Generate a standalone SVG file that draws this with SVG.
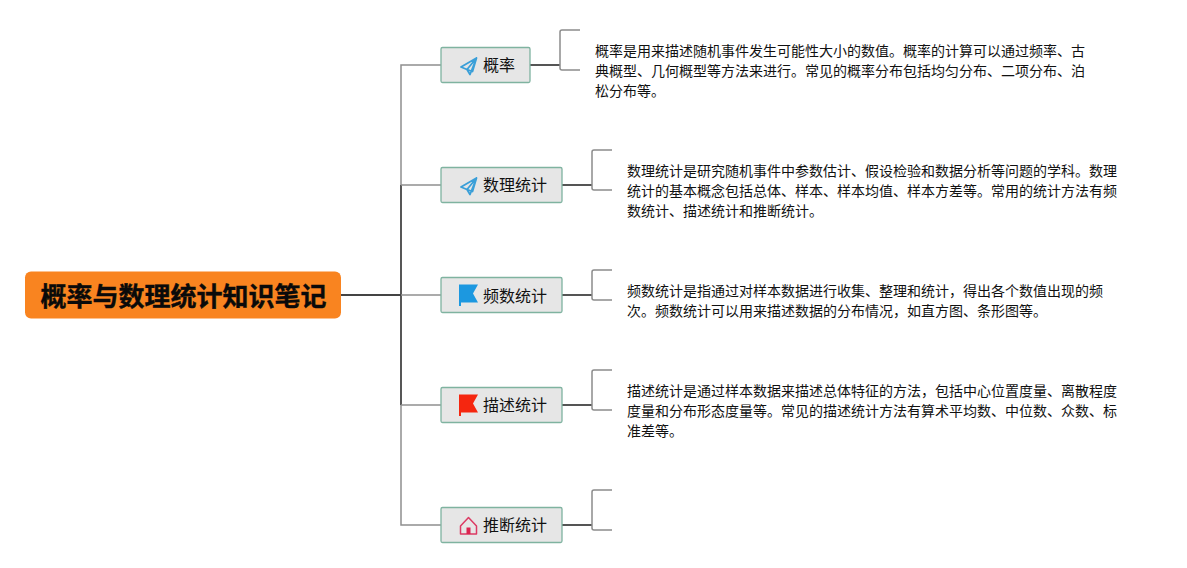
<svg xmlns="http://www.w3.org/2000/svg" width="1187" height="568" viewBox="0 0 1187 568">
<style>
text{font-family:"Liberation Sans","Noto Sans CJK SC",sans-serif;fill:#111}
.t{font-size:16px}
.d{font-size:14px}
.c{fill:none}
.n{fill:#e6e6e6;stroke:#7fb3a0;stroke-width:1.3}
.dark{stroke:#555;stroke-width:2}
.lt{stroke:#8c8c8c;stroke-width:1.5}
.br{stroke:#8f8f8f;stroke-width:1.5}
</style>
<rect width="1187" height="568" fill="#fff"/>
<g id="connectors">
<path class="c" d="M341 295H401" stroke="#444" stroke-width="2"/>
<path class="c br" d="M441 65H401V185"/>
<path class="c br" d="M401 405V525H441"/>
<path class="c" d="M401 185V405" stroke="#444" stroke-width="1.800"/>
<path class="c br" d="M401 185H441"/>
<path class="c br" d="M401 295H441"/>
<path class="c br" d="M401 405H441"/>
<path class="c dark" d="M530 65H560"/><path class="c lt" d="M580 30H562Q560 30 560 32V68Q560 70 562 70H580"/>
<path class="c dark" d="M562 185H592"/><path class="c lt" d="M612 150H594Q592 150 592 152V188Q592 190 594 190H612"/>
<path class="c dark" d="M562 295H592"/><path class="c lt" d="M612 270H594Q592 270 592 272V298Q592 300 594 300H612"/>
<path class="c dark" d="M562 405H592"/><path class="c lt" d="M612 370H594Q592 370 592 372V408Q592 410 594 410H612"/>
<path class="c dark" d="M562 525H592"/><path class="c lt" d="M612 490H594Q592 490 592 492V528Q592 530 594 530H612"/>
</g>
<g id="root">
<rect x="25" y="271.500" width="316" height="47" rx="6" fill="#f98420"/>
<text x="183.500" y="306" text-anchor="middle" font-size="26" font-weight="700" style="fill:#0a0a0a;stroke:#0a0a0a;stroke-width:.4">概率与数理统计知识笔记</text>
</g>
<g id="node1">
<rect class="n" x="441" y="47.500" width="89" height="35" rx="1.500"/>
<path d="M476.500 58L461 67L467 69.500L470 74.500L476.500 58ZM467 69.500L476.500 58L472.500 71.500Z" fill="none" stroke="#3a9fd8" stroke-width="1.800" stroke-linejoin="round"/>
<text class="t" x="483" y="71">概率</text>
</g>
<g id="node2">
<rect class="n" x="441" y="167.500" width="121" height="35" rx="1.500"/>
<path d="M476.500 178L461 187L467 189.500L470 194.500L476.500 178ZM467 189.500L476.500 178L472.500 191.500Z" fill="none" stroke="#3a9fd8" stroke-width="1.800" stroke-linejoin="round"/>
<text class="t" x="483" y="191">数理统计</text>
</g>
<g id="node3">
<rect class="n" x="441" y="277.500" width="121" height="35" rx="1.500"/>
<path d="M459 284.500H478L473 293.500L478 302.500H461V306H459Z" fill="#1c98e0"/>
<text class="t" x="483" y="302">频数统计</text>
</g>
<g id="node4">
<rect class="n" x="441" y="387.500" width="121" height="35" rx="1.500"/>
<path d="M459 394.500H478L473 403.500L478 412.500H461V416H459Z" fill="#f5260f"/>
<text class="t" x="483" y="411">描述统计</text>
</g>
<g id="node5">
<rect class="n" x="441" y="507.500" width="121" height="35" rx="1.500"/>
<path d="M460.500 526L468.500 517.500L476.500 526V534H460.500Z" fill="none" stroke="#dc3a63" stroke-width="1.500" stroke-linejoin="round"/>
<rect x="466.500" y="527.500" width="4" height="6.500" fill="#dc2450"/>
<text class="t" x="483" y="531">推断统计</text>
</g>
<g id="text1">
<text class="d" x="595" y="56">概率是用来描述随机事件发生可能性大小的数值。概率的计算可以通过频率、古</text>
<text class="d" x="595" y="76">典概型、几何概型等方法来进行。常见的概率分布包括均匀分布、二项分布、泊</text>
<text class="d" x="595" y="96">松分布等。</text>
</g>
<g id="text2">
<text class="d" x="627" y="176">数理统计是研究随机事件中参数估计、假设检验和数据分析等问题的学科。数理</text>
<text class="d" x="627" y="196">统计的基本概念包括总体、样本、样本均值、样本方差等。常用的统计方法有频</text>
<text class="d" x="627" y="216">数统计、描述统计和推断统计。</text>
</g>
<g id="text3">
<text class="d" x="627" y="296">频数统计是指通过对样本数据进行收集、整理和统计，得出各个数值出现的频</text>
<text class="d" x="627" y="316">次。频数统计可以用来描述数据的分布情况，如直方图、条形图等。</text>
</g>
<g id="text4">
<text class="d" x="627" y="396">描述统计是通过样本数据来描述总体特征的方法，包括中心位置度量、离散程度</text>
<text class="d" x="627" y="416">度量和分布形态度量等。常见的描述统计方法有算术平均数、中位数、众数、标</text>
<text class="d" x="627" y="436">准差等。</text>
</g>
</svg>
